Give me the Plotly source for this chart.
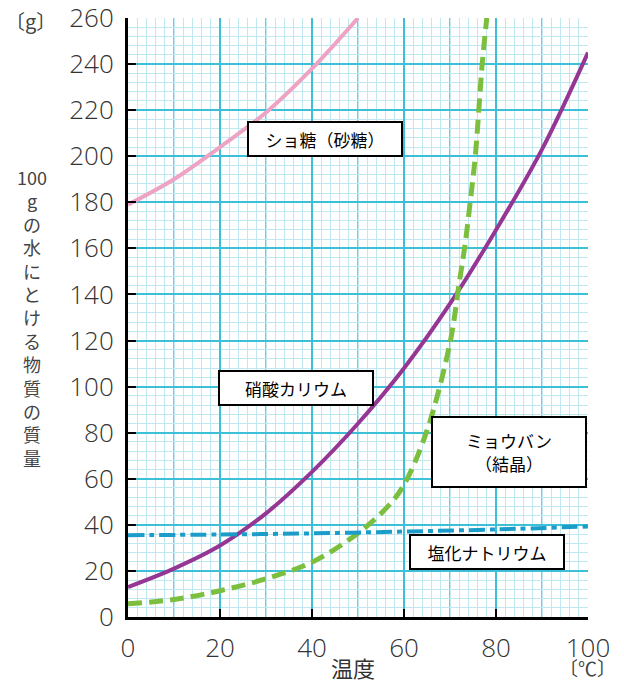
import plotly.graph_objects as go

# ---- data ----
sucrose_t = [0, 10, 20, 30, 40, 50]
sucrose_v = [179, 190, 204, 219, 238, 260]

kno3_t = [0, 10, 20, 30, 40, 50, 60, 70, 80, 90, 100]
kno3_v = [13, 21, 31, 45, 63, 84, 108, 136, 168, 203, 245]

alum_t = [0, 10, 20, 30, 40, 50, 56.5, 60, 65, 70, 72, 73.3, 74.5, 75.5, 77, 78]
alum_v = [5.7, 7.6, 11.4, 16.6, 23.8, 36.4, 48, 57.4, 81, 119, 145, 162, 182, 200, 240, 260]

nacl_t = [0, 20, 40, 60, 80, 100]
nacl_v = [35.5, 35.8, 36.3, 37.1, 38.0, 39.3]

x_ticks = [0, 20, 40, 60, 80, 100]
y_ticks = list(range(0, 261, 20))

labels = ["ショ糖（砂糖）", "硝酸カリウム", "ミョウバン<br>（結晶）", "塩化ナトリウム"]
label_pos = [(42.8, 207.5), (36.6, 99.6), (82.8, 71.8), (78.0, 28.4)]
label_h = [32, 32, 68, 32]

y_title_chars = ["100", "g", "の", "水", "に", "と", "け", "る", "物", "質", "の", "質", "量"]

CJK = "Noto Sans CJK JP"
NUM = "Open Sans, Liberation Sans, sans-serif"
MAJOR = "#3dbfd8"
MINOR = "#bfe8f0"

fig = go.Figure()
fig.add_trace(go.Scatter(x=sucrose_t, y=sucrose_v, mode="lines", line=dict(color="#eea3c4", width=4, shape="spline"), hoverinfo="skip"))
fig.add_trace(go.Scatter(x=kno3_t, y=kno3_v, mode="lines", line=dict(color="#953594", width=4, shape="spline"), hoverinfo="skip"))
fig.add_trace(go.Scatter(x=alum_t, y=alum_v, mode="lines", line=dict(color="#7cbf3f", width=5, shape="spline", dash="14px,7px"), hoverinfo="skip"))
fig.add_trace(go.Scatter(x=nacl_t, y=nacl_v, mode="lines", line=dict(color="#1c9dc9", width=4, shape="spline", dash="16px,5px,5px,5px"), hoverinfo="skip"))

# 10-degree major vertical grid lines
for v in range(10, 100, 20):
    fig.add_shape(type="line", xref="x", yref="paper", x0=v, x1=v, y0=0, y1=1,
                  line=dict(color=MAJOR, width=1.5), layer="between")

ann = []
for txt, (ax, ay), h in zip(labels, label_pos, label_h):
    ann.append(dict(x=ax, y=ay, xref="x", yref="y", text=txt, showarrow=False,
                    font=dict(family=CJK, size=17, color="black"),
                    bgcolor="white", bordercolor="black", borderwidth=2, borderpad=0,
                    width=152, height=h))

ann.append(dict(x=-0.213, y=0.995, xref="paper", yref="paper", text="〔g〕", showarrow=False,
                font=dict(family=CJK, size=20, color="#444"), xanchor="center", yanchor="middle"))
ann.append(dict(x=-0.208, y=0.50, xref="paper", yref="paper", text="<br>".join(y_title_chars),
                showarrow=False, font=dict(family=CJK, size=18, color="#444"),
                xanchor="center", yanchor="middle"))
ann.append(dict(x=0.49, y=-0.083, xref="paper", yref="paper", text="温度", showarrow=False,
                font=dict(family=CJK, size=22, color="#333"), xanchor="center", yanchor="middle"))
ann.append(dict(x=0.998, y=-0.085, xref="paper", yref="paper", text="〔℃〕", showarrow=False,
                font=dict(family=CJK, size=19, color="#444"), xanchor="center", yanchor="middle"))

tickfont = dict(family=NUM, size=26, color="#333", weight=300)

fig.update_layout(
    width=616, height=676,
    margin=dict(l=120, r=36, t=10, b=67, autoexpand=False),
    paper_bgcolor="white", plot_bgcolor="white",
    showlegend=False,
    annotations=ann,
    xaxis=dict(range=[0, 100], tickvals=x_ticks, showgrid=True, gridcolor=MAJOR, gridwidth=1.5,
               minor=dict(dtick=2, showgrid=True, gridcolor=MINOR, gridwidth=1, ticks=""),
               zeroline=False, showline=True, linecolor="black", linewidth=3,
               ticks="inside", ticklen=8, tickwidth=2, tickcolor="black",
               ticklabelstandoff=6, automargin=False, ticklabeloverflow="allow",
               tickfont=tickfont),
    yaxis=dict(range=[0, 260], tickvals=y_ticks, showgrid=True, gridcolor=MAJOR, gridwidth=1.5,
               minor=dict(dtick=4, showgrid=True, gridcolor=MINOR, gridwidth=1, ticks=""),
               zeroline=False, showline=True, linecolor="black", linewidth=3,
               ticks="inside", ticklen=8, tickwidth=2, tickcolor="black",
               ticklabelstandoff=6, automargin=False, ticklabeloverflow="allow",
               tickfont=tickfont),
)

fig.write_html("out.html")
